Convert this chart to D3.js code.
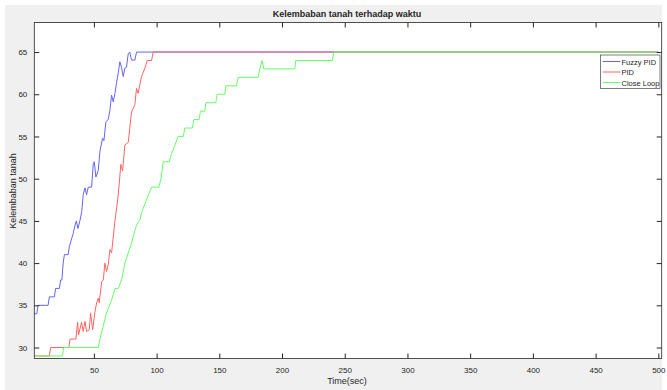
<!DOCTYPE html>
<html>
<head>
<meta charset="utf-8">
<script src="https://cdn.jsdelivr.net/npm/d3@7"></script>
<style>
  body { margin: 0; background: #fff; }
  text { font-family: "Liberation Sans", Arial, sans-serif; fill: #262626; }
</style>
</head>
<body>
<svg id="chart" width="667" height="390"></svg>
<script>
// data: [time (sec), kelembaban]
var fuzzyPid = [[2.5,34],[4.5,34],[5.5,35],[13.5,35],[14.5,36],[18.5,36],[19.5,37],[22.5,37],[23.5,38],[24.5,38],
  [25.5,40],[26.5,41],[29.5,41],[30.5,42],[31.5,42.5],[32.5,43],[33.5,43.5],[35,44.5],[36,45],[37.3,44.1],
  [39,45.1],[40.3,46.1],[41.5,48.1],[42.9,48.9],[44.2,48.1],[45.5,49],[48.2,49],[49.5,51.8],[50.3,52],[51.6,50.2],
  [53.5,51],[54.8,53.2],[56.9,54.8],[58,54.5],[59.6,56.75],[61.4,57],[62.8,58.1],[64.1,59.9],[65.4,59.1],[66.8,60.1],
  [68,61.3],[69.4,62.5],[70.7,63.85],[72,63.2],[73.4,62.1],[74.7,63.1],[76,63.2],[77.4,64.8],[78.6,65],[80,64.05],
  [82.7,64.05],[84,65],[500,65]];
var pid = [[2.5,29],[14.5,29],[15.5,30],[30,30],[31,31],[35.7,31],[37,33],[37.8,31.5],[40.2,33],[41.5,31.9],
  [42.9,33.1],[44.2,31.9],[46.3,32.1],[47.4,34.1],[49,32.1],[50.8,34.2],[52.2,35.3],[53.5,35.85],[54.3,35.3],[56.2,37.8],
  [57.5,38],[58.8,40],[60.1,39],[61.4,39.8],[62.8,41.6],[64.1,41.2],[66.8,45],[69.4,48],[71.5,51.7],[72.9,50.9],
  [74.7,54],[77.4,54.3],[80,57.9],[81.3,58.3],[82.7,58.8],[84,60.7],[85.3,60.1],[86.7,61.2],[88,62.1],[90.7,63.1],
  [92.5,64],[96,64],[97.3,65],[500,65]];
var closeLoop = [[2.5,29],[25,29],[25.8,30],[53.5,30],[54.8,31],[57.4,32.5],[60.1,34.1],[62.5,35],[64.1,35.6],[66.8,37],
  [69.4,37],[72.1,38],[74.7,40],[77.4,41.2],[80,42.3],[81.3,43.1],[84,44.5],[86.7,45.1],[88,46],[90.7,47],
  [93.3,48],[96.1,49],[101.8,49],[103.5,50],[105.3,52],[110.2,52],[111.9,53],[113.5,53.5],[114.6,54],[117.2,55],
  [121.3,55],[122.5,56],[128.6,56],[129.7,57],[133.9,57],[135,58],[138.5,58],[139.3,59],[147.2,59],[148.3,60],
  [154.4,60],[155.2,61],[163.7,61],[165,62],[180.9,62],[182.3,63],[184.1,64],[185.5,63],[210.2,63],[210.9,64],
  [240.2,64],[241.2,65],[500,65]];

var seriesNames = ["Fuzzy PID", "PID", "Close Loop"];
var seriesColors = ["#6464ff", "#ff6464", "#64ff64"];
var xTicks = [50, 100, 150, 200, 250, 300, 350, 400, 450, 500];
var yTicks = [30, 35, 40, 45, 50, 55, 60, 65];

var svg = d3.select("#chart");

// figure background
svg.append("rect").attr("x", 5).attr("y", 5).attr("width", 657).attr("height", 385).attr("fill", "#f0f0f0");

var margin = {top: 22.5, left: 34.3, right: 661.7, bottom: 358.5};

// set the ranges
var x = d3.scaleLinear().domain([2.5, 502.7]).range([margin.left, margin.right]);
var y = d3.scaleLinear().domain([28.7, 68.5]).range([margin.bottom, margin.top]);

// plot area
svg.append("rect")
  .attr("x", margin.left).attr("y", margin.top)
  .attr("width", margin.right - margin.left).attr("height", margin.bottom - margin.top)
  .attr("fill", "#fff");

// lines
var line = d3.line().x(function(d) { return x(d[0]); }).y(function(d) { return y(d[1]); });
[fuzzyPid, pid, closeLoop].forEach(function(s, i) {
  svg.append("path")
    .datum(s)
    .attr("fill", "none")
    .attr("stroke", seriesColors[i])
    .attr("stroke-width", 1)
    .attr("d", line);
});

// axes, ticks inside, box on
function styleAxis(g) {
  g.select(".domain").remove();
  g.selectAll("line").attr("stroke", "#262626");
  g.selectAll("text").attr("font-size", 8).attr("fill", "#4d4d4d");
}
svg.append("g")
  .attr("transform", "translate(0," + margin.bottom + ")")
  .call(d3.axisBottom(x).tickValues(xTicks).tickSizeInner(-5).tickSizeOuter(0).tickPadding(9))
  .call(styleAxis);
svg.append("g")
  .attr("transform", "translate(0," + margin.top + ")")
  .call(d3.axisTop(x).tickValues(xTicks).tickSizeInner(-5).tickSizeOuter(0).tickFormat(""))
  .call(styleAxis);
svg.append("g")
  .attr("transform", "translate(" + margin.left + ",0)")
  .call(d3.axisLeft(y).tickValues(yTicks).tickSizeInner(-5).tickSizeOuter(0).tickPadding(7))
  .call(styleAxis);
svg.append("g")
  .attr("transform", "translate(" + margin.right + ",0)")
  .call(d3.axisRight(y).tickValues(yTicks).tickSizeInner(-5).tickSizeOuter(0).tickFormat(""))
  .call(styleAxis);

svg.append("rect")
  .attr("x", margin.left).attr("y", margin.top)
  .attr("width", margin.right - margin.left).attr("height", margin.bottom - margin.top)
  .attr("fill", "none").attr("stroke", "#262626").attr("stroke-width", 0.8);

// title and labels
svg.append("text").attr("x", 347).attr("y", 17).attr("text-anchor", "middle")
  .attr("font-size", 9).attr("font-weight", "bold").attr("fill", "#000")
  .text("Kelembaban tanah terhadap waktu");
svg.append("text").attr("x", 347).attr("y", 384).attr("text-anchor", "middle")
  .attr("font-size", 9).text("Time(sec)");
svg.append("text").attr("transform", "translate(16,191) rotate(-90)").attr("text-anchor", "middle")
  .attr("font-size", 9).text("Kelembaban tanah");

// legend
var lg = svg.append("g").attr("transform", "translate(600.5,55)");
lg.append("rect").attr("width", 59.5).attr("height", 33.5)
  .attr("fill", "#fff").attr("stroke", "#262626").attr("stroke-width", 0.6);
seriesNames.forEach(function(n, i) {
  var yy = 6.5 + i * 10.5;
  lg.append("line").attr("x1", 2).attr("x2", 20).attr("y1", yy).attr("y2", yy)
    .attr("stroke", seriesColors[i]).attr("stroke-width", 1);
  lg.append("text").attr("x", 21).attr("y", yy + 3).attr("font-size", 7.5).text(n);
});
</script>
</body>
</html>
